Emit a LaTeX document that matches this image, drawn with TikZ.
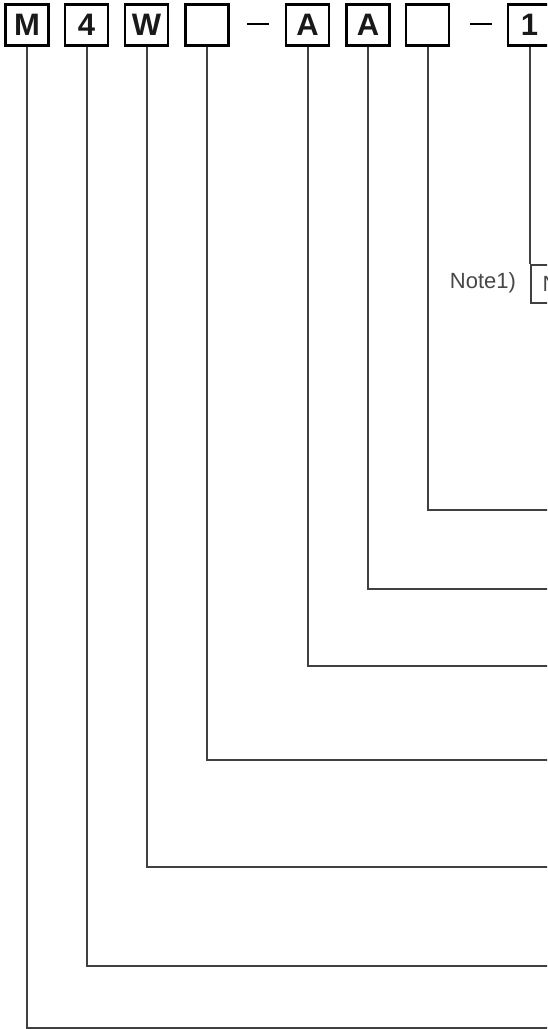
\documentclass[tikz,border=0pt]{standalone}
\usepackage{fontspec}
\setmainfont{Liberation Sans}
\begin{document}
\begin{tikzpicture}[x=1pt,y=-1pt,
  codebox/.style={draw=black, line width=2.1pt, minimum width=43pt, minimum height=41pt, inner sep=0pt, font=\fontsize{31}{31}\selectfont\bfseries, text=black!90},
  lead/.style={draw=black!75, line width=2pt},
  dashmark/.style={draw=black, line width=2.8pt},
  notetxt/.style={font=\fontsize{22}{22}\selectfont, text=black!72}]
\useasboundingbox (0,0) rectangle (547,1029);
\clip (0,0) rectangle (547,1029);
% code boxes
\node[codebox] (b1) at (27,25) {M};
\node[codebox] (b2) at (86.5,25) {4};
\node[codebox] (b3) at (146.5,25) {W};
\node[codebox] (b4) at (207,25) {};
\node[codebox] (b5) at (307.5,25) {A};
\node[codebox] (b6) at (368,25) {A};
\node[codebox] (b7) at (427.5,25) {};
\node[codebox] (b8) at (529.5,25) {1};
% dashes
\coordinate (d1a) at (247,24); \coordinate (d1b) at (269,24);
\coordinate (d2a) at (470,24); \coordinate (d2b) at (492,24);
\draw[dashmark] (d1a) -- (d1b);
\draw[dashmark] (d2a) -- (d2b);
% note box
\node[draw=black!75, line width=2pt, anchor=north west, minimum height=38pt, text width=60pt, inner xsep=12pt, align=left, notetxt] (note) at (529.5,264) {N};
\node[notetxt, anchor=east] (notelbl) at ([xshift=-10pt,yshift=1pt]note.west) {Note1)};
% right-edge ends
\coordinate (e7) at (550,510);
\coordinate (e6) at (550,589);
\coordinate (e5) at (550,666);
\coordinate (e4) at (550,759.5);
\coordinate (e3) at (550,867);
\coordinate (e2) at (550,966);
\coordinate (e1) at (550,1027.5);
% leads
\draw[lead] (b8.south) -- (note.north west);
\draw[lead] (b7.south) |- (e7);
\draw[lead] (b6.south) |- (e6);
\draw[lead] (b5.south) |- (e5);
\draw[lead] (b4.south) |- (e4);
\draw[lead] (b3.south) |- (e3);
\draw[lead] (b2.south) |- (e2);
\draw[lead] (b1.south) |- (e1);
\end{tikzpicture}
\end{document}
